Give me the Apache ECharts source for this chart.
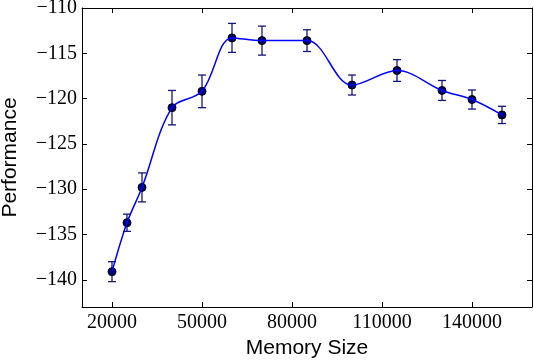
<!DOCTYPE html>
<html>
<head>
<meta charset="utf-8">
<script src="https://cdn.jsdelivr.net/npm/echarts@6/dist/echarts.min.js"></script>
<style>
  html, body { margin: 0; padding: 0; background: #fff; }
  #chart { width: 534px; height: 360px; }
</style>
</head>
<body>
<div id="chart"></div>
<script>
// memory size vs performance, with error bars
const memorySize = [20000, 25000, 30000, 40000, 50000, 60000, 70000, 85000, 100000, 115000, 130000, 140000, 150000];
const performance = [-139.1, -133.7, -129.8, -121.0, -119.2, -113.3, -113.6, -113.6, -118.5, -116.9, -119.1, -120.1, -121.8];
const errorSize = [1.1, 0.95, 1.6, 1.9, 1.8, 1.6, 1.6, 1.2, 1.1, 1.2, 1.1, 1.05, 0.95];
const xTicks = [20000, 50000, 80000, 110000, 140000];
const yTicks = [-140, -135, -130, -125, -120, -115, -110];

const FONT_SERIF = '"Liberation Serif","DejaVu Serif",serif';
const FONT_SANS = '"Liberation Sans","DejaVu Sans",sans-serif';
const ERR_COLOR = '#16167e';

const points = memorySize.map((x, i) => [x, performance[i]]);
const errData = memorySize.map((x, i) => [x, performance[i] - errorSize[i], performance[i] + errorSize[i]]);

const tickText = v => String(v).replace('-', '\u2212');

function frameAxis(extra) {
  return Object.assign({
    axisLine: { show: true, onZero: false, lineStyle: { color: '#000', width: 1 } },
    splitLine: { show: false }
  }, extra);
}

function ticks(values) {
  return { show: true, inside: true, length: 5, customValues: values, lineStyle: { color: '#000', width: 1 } };
}

function tickLabels(values, margin) {
  return {
    customValues: values, formatter: tickText, margin: margin,
    fontFamily: FONT_SERIF, fontSize: 20, color: '#000'
  };
}

const chart = echarts.init(document.getElementById('chart'), null, { renderer: 'canvas' });
chart.setOption({
  backgroundColor: '#fff',
  animation: false,
  textStyle: { fontFamily: FONT_SERIF },
  grid: { left: 82, right: 2, top: 8, bottom: 53, containLabel: false, outerBoundsMode: 'none' },
  xAxis: [
    frameAxis({
      type: 'value', min: 10000, max: 160000, position: 'bottom',
      name: 'Memory Size', nameLocation: 'middle', nameGap: 31,
      nameTextStyle: { fontFamily: FONT_SANS, fontSize: 21, color: '#000' },
      axisTick: ticks(xTicks),
      axisLabel: tickLabels(xTicks, 6)
    }),
    frameAxis({
      type: 'value', min: 10000, max: 160000, position: 'top',
      axisTick: ticks(xTicks),
      axisLabel: { show: false }
    })
  ],
  yAxis: [
    frameAxis({
      type: 'value', min: -143, max: -110, position: 'left',
      name: 'Performance', nameLocation: 'middle', nameGap: 61, nameRotate: 90,
      nameTextStyle: { fontFamily: FONT_SANS, fontSize: 21, color: '#000' },
      axisTick: ticks(yTicks),
      axisLabel: tickLabels(yTicks, 5)
    }),
    frameAxis({
      type: 'value', min: -143, max: -110, position: 'right',
      axisTick: ticks(yTicks),
      axisLabel: { show: false }
    })
  ],
  series: [
    {
      type: 'custom',
      z: 2,
      data: errData,
      renderItem: (params, api) => {
        const lo = api.coord([api.value(0), api.value(1)]);
        const hi = api.coord([api.value(0), api.value(2)]);
        const cap = 4;
        const style = { stroke: ERR_COLOR, lineWidth: 1.3 };
        return {
          type: 'group',
          children: [
            { type: 'line', shape: { x1: lo[0], y1: lo[1], x2: hi[0], y2: hi[1] }, style },
            { type: 'line', shape: { x1: lo[0] - cap, y1: lo[1], x2: lo[0] + cap, y2: lo[1] }, style },
            { type: 'line', shape: { x1: hi[0] - cap, y1: hi[1], x2: hi[0] + cap, y2: hi[1] }, style }
          ]
        };
      }
    },
    {
      type: 'scatter',
      z: 3,
      data: points,
      symbol: 'circle',
      symbolSize: 8,
      itemStyle: { color: '#000070', borderColor: '#000', borderWidth: 1, opacity: 1 }
    },
    {
      type: 'line',
      z: 4,
      data: points,
      smooth: 0.35,
      showSymbol: false,
      lineStyle: { color: '#0000ff', width: 1.5 }
    }
  ]
});
</script>
</body>
</html>
